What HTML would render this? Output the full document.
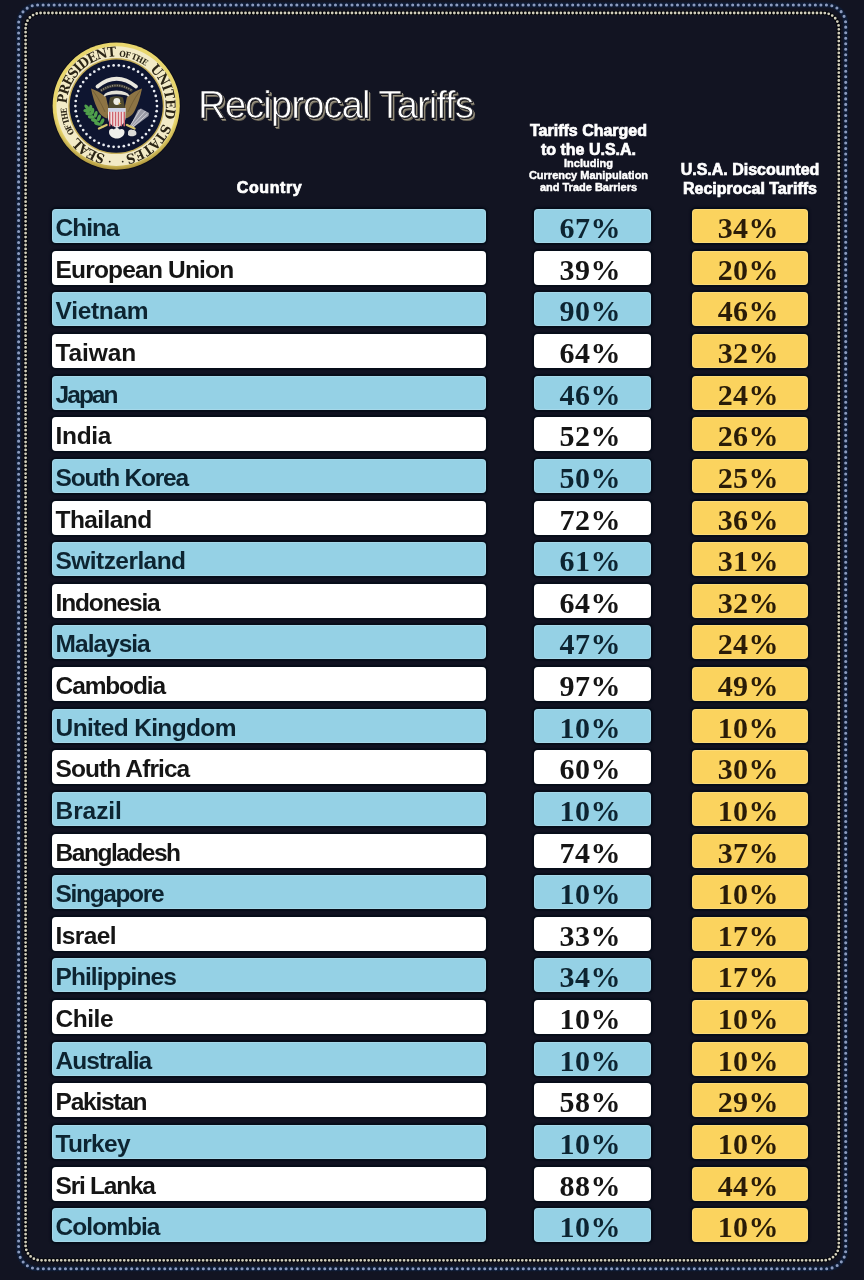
<!DOCTYPE html>
<html><head><meta charset="utf-8"><style>
*{margin:0;padding:0;box-sizing:border-box}
html,body{width:864px;height:1280px;overflow:hidden;background:#121422}
body{position:relative;font-family:"Liberation Sans",sans-serif}
.frame{position:absolute;left:0;top:0;width:864px;height:1280px}
.title{position:absolute;left:198px;top:82.5px;font-size:38.5px;color:#fff;white-space:nowrap;letter-spacing:-1.05px;
 -webkit-text-stroke:0.7px #1b1b22;text-shadow:1px 1px 0 #15151a,1.9px 1.9px 0 #9d9684,2.6px 2.6px 0.6px #6e695c}
.h{position:absolute;color:#fff;font-weight:bold;text-align:center;white-space:nowrap;-webkit-text-stroke:0.7px #fff}
.r{position:absolute;left:0;width:864px;height:34px}
.r>div{position:absolute;top:0;height:34px;border-radius:4px;box-shadow:0 0 0 1.5px #060d19,0 0 2px 2px #0a0e1b,inset 0 0 0 1px rgba(255,255,255,0.16)}
.c{left:52px;width:434px;font-weight:bold;font-size:24.5px;letter-spacing:-0.6px;padding-left:3.6px;line-height:38px}
.m,.y{font-family:"Liberation Serif",serif;font-weight:bold;font-size:30px;letter-spacing:0.4px;text-align:center;line-height:37.2px;padding-right:4.6px}
.m{left:534px;width:117px}
.y{left:692px;width:116px;padding-right:3.5px !important;background:#fbd35e;color:#2a1c08}
.b .c,.b .m{background:#95d1e5;color:#0d2431}
.w .c,.w .m{background:#fff;color:#151515}
</style></head><body>
<svg style="position:absolute;left:46px;top:36px" width="142" height="142" viewBox="46 36 142 142">
<defs><radialGradient id="gr" cx="50%" cy="45%" r="55%"><stop offset="0.9" stop-color="#e8d66e"/><stop offset="1" stop-color="#a88f38"/></radialGradient></defs>
<circle cx="116.2" cy="106.1" r="64.4" fill="#0b0c18"/>
<circle cx="116.2" cy="106.1" r="63.6" fill="url(#gr)"/>
<circle cx="116.2" cy="106.1" r="59.800000000000004" fill="#f2eac6"/>
<circle cx="116.2" cy="106.1" r="48.0" fill="#c8b05a"/>
<circle cx="116.2" cy="106.1" r="46.6" fill="#0e1530"/>
<circle cx="157.00" cy="106.10" r="1.35" fill="#e9ecf2"/>
<circle cx="156.68" cy="111.21" r="1.35" fill="#e9ecf2"/>
<circle cx="155.72" cy="116.25" r="1.35" fill="#e9ecf2"/>
<circle cx="154.13" cy="121.12" r="1.35" fill="#e9ecf2"/>
<circle cx="151.95" cy="125.76" r="1.35" fill="#e9ecf2"/>
<circle cx="149.21" cy="130.08" r="1.35" fill="#e9ecf2"/>
<circle cx="145.94" cy="134.03" r="1.35" fill="#e9ecf2"/>
<circle cx="142.21" cy="137.54" r="1.35" fill="#e9ecf2"/>
<circle cx="138.06" cy="140.55" r="1.35" fill="#e9ecf2"/>
<circle cx="133.57" cy="143.02" r="1.35" fill="#e9ecf2"/>
<circle cx="128.81" cy="144.90" r="1.35" fill="#e9ecf2"/>
<circle cx="123.85" cy="146.18" r="1.35" fill="#e9ecf2"/>
<circle cx="118.76" cy="146.82" r="1.35" fill="#e9ecf2"/>
<circle cx="113.64" cy="146.82" r="1.35" fill="#e9ecf2"/>
<circle cx="108.55" cy="146.18" r="1.35" fill="#e9ecf2"/>
<circle cx="103.59" cy="144.90" r="1.35" fill="#e9ecf2"/>
<circle cx="98.83" cy="143.02" r="1.35" fill="#e9ecf2"/>
<circle cx="94.34" cy="140.55" r="1.35" fill="#e9ecf2"/>
<circle cx="90.19" cy="137.54" r="1.35" fill="#e9ecf2"/>
<circle cx="86.46" cy="134.03" r="1.35" fill="#e9ecf2"/>
<circle cx="83.19" cy="130.08" r="1.35" fill="#e9ecf2"/>
<circle cx="80.45" cy="125.76" r="1.35" fill="#e9ecf2"/>
<circle cx="78.27" cy="121.12" r="1.35" fill="#e9ecf2"/>
<circle cx="76.68" cy="116.25" r="1.35" fill="#e9ecf2"/>
<circle cx="75.72" cy="111.21" r="1.35" fill="#e9ecf2"/>
<circle cx="75.40" cy="106.10" r="1.35" fill="#e9ecf2"/>
<circle cx="75.72" cy="100.99" r="1.35" fill="#e9ecf2"/>
<circle cx="76.68" cy="95.95" r="1.35" fill="#e9ecf2"/>
<circle cx="78.27" cy="91.08" r="1.35" fill="#e9ecf2"/>
<circle cx="80.45" cy="86.44" r="1.35" fill="#e9ecf2"/>
<circle cx="83.19" cy="82.12" r="1.35" fill="#e9ecf2"/>
<circle cx="86.46" cy="78.17" r="1.35" fill="#e9ecf2"/>
<circle cx="90.19" cy="74.66" r="1.35" fill="#e9ecf2"/>
<circle cx="94.34" cy="71.65" r="1.35" fill="#e9ecf2"/>
<circle cx="98.83" cy="69.18" r="1.35" fill="#e9ecf2"/>
<circle cx="103.59" cy="67.30" r="1.35" fill="#e9ecf2"/>
<circle cx="108.55" cy="66.02" r="1.35" fill="#e9ecf2"/>
<circle cx="113.64" cy="65.38" r="1.35" fill="#e9ecf2"/>
<circle cx="118.76" cy="65.38" r="1.35" fill="#e9ecf2"/>
<circle cx="123.85" cy="66.02" r="1.35" fill="#e9ecf2"/>
<circle cx="128.81" cy="67.30" r="1.35" fill="#e9ecf2"/>
<circle cx="133.57" cy="69.18" r="1.35" fill="#e9ecf2"/>
<circle cx="138.06" cy="71.65" r="1.35" fill="#e9ecf2"/>
<circle cx="142.21" cy="74.66" r="1.35" fill="#e9ecf2"/>
<circle cx="145.94" cy="78.17" r="1.35" fill="#e9ecf2"/>
<circle cx="149.21" cy="82.12" r="1.35" fill="#e9ecf2"/>
<circle cx="151.95" cy="86.44" r="1.35" fill="#e9ecf2"/>
<circle cx="154.13" cy="91.08" r="1.35" fill="#e9ecf2"/>
<circle cx="155.72" cy="95.95" r="1.35" fill="#e9ecf2"/>
<circle cx="156.68" cy="100.99" r="1.35" fill="#e9ecf2"/>
<path id="tp" fill="none" d="M 116.2 155.7 A 49.6 49.6 0 1 1 116.2 56.49999999999999 A 49.6 49.6 0 1 1 116.2 155.7"/>
<text font-family="DejaVu Serif Condensed,Liberation Serif,serif" font-weight="bold" font-size="13.5" fill="#2b2516"><textPath href="#tp" startOffset="10.8" textLength="33.3" lengthAdjust="spacing">SEAL</textPath></text>
<text font-family="DejaVu Serif Condensed,Liberation Serif,serif" font-weight="bold" font-size="8.2" fill="#2b2516"><textPath href="#tp" startOffset="49.3" textLength="26.8" lengthAdjust="spacing">OF THE</textPath></text>
<text font-family="DejaVu Serif Condensed,Liberation Serif,serif" font-weight="bold" font-size="13.5" fill="#2b2516"><textPath href="#tp" startOffset="80.1" textLength="75.7" lengthAdjust="spacing">PRESIDENT</textPath></text>
<text font-family="DejaVu Serif Condensed,Liberation Serif,serif" font-weight="bold" font-size="8.2" fill="#2b2516"><textPath href="#tp" startOffset="158.4" textLength="28.6" lengthAdjust="spacing">OF THE</textPath></text>
<text font-family="DejaVu Serif Condensed,Liberation Serif,serif" font-weight="bold" font-size="13.5" fill="#2b2516"><textPath href="#tp" startOffset="192.2" textLength="53.7" lengthAdjust="spacing">UNITED</textPath></text>
<text font-family="DejaVu Serif Condensed,Liberation Serif,serif" font-weight="bold" font-size="13.5" fill="#2b2516"><textPath href="#tp" startOffset="251.0" textLength="51.1" lengthAdjust="spacing">STATES</textPath></text>
<circle cx="109.7" cy="161.6" r="0.9" fill="#2a2414"/>
<circle cx="122.7" cy="161.6" r="0.9" fill="#2a2414"/>
<g><path d="M91 88.5 C96 90 101 93 106 97 L108.5 108 L107.5 118.5 C103 117.5 99.5 114 97.5 109 C94.5 103 92.5 96 91 88.5 Z" fill="#8d7444"/><path d="M142 88.5 C137 90 132 93 127 97 L124.5 108 L125.5 118.5 C130 117.5 133.5 114 135.5 109 C138.5 103 140.5 96 142 88.5 Z" fill="#8d7444"/><path d="M93 91 C97 96 101 103 105 112" stroke="#6e5a34" stroke-width="0.8" fill="none"/><path d="M140 91 C136 96 132 103 128 112" stroke="#6e5a34" stroke-width="0.8" fill="none"/><path d="M97.5 86.5 Q116.5 71 136 86.5" fill="none" stroke="#e9e7de" stroke-width="3.8" stroke-linecap="round"/><path d="M100.5 91 Q116.5 80 132.5 91" fill="none" stroke="#3c3a34" stroke-width="3"/><path d="M101 90.5 Q116.5 80.5 132 90.5" fill="none" stroke="#9a968a" stroke-width="1.6" stroke-dasharray="1 1.4"/><path d="M103.5 96 Q105 91 116.5 90.5 Q128 91 129.5 96 L128 96.5 Q126 94.5 116.5 94.3 Q107 94.5 105 96.5 Z" fill="#e2e0d6"/><path d="M110 97.5 Q116.5 95 123 97.5 L125 108 L108 108 Z" fill="#4f4a30"/><ellipse cx="116.8" cy="101.5" rx="3.4" ry="3.4" fill="#eeede4"/><path d="M118.5 102.5 l3 1 l-2.5 1 Z" fill="#d8b84a"/><path d="M108 108 L125.5 108 L125.5 118 C125.5 123 121 126 116.7 128 C112.5 126 108 123 108 118 Z" fill="#f4eeee"/><path d="M108 108 L125.5 108 L125.5 111.8 L108 111.8 Z" fill="#cdd3e6"/><rect x="109.00" y="111.8" width="1.5" height="14.5" fill="#cf6470"/><rect x="111.90" y="111.8" width="1.5" height="14.5" fill="#cf6470"/><rect x="114.80" y="111.8" width="1.5" height="14.5" fill="#cf6470"/><rect x="117.70" y="111.8" width="1.5" height="14.5" fill="#cf6470"/><rect x="120.60" y="111.8" width="1.5" height="14.5" fill="#cf6470"/><rect x="123.50" y="111.8" width="1.5" height="14.5" fill="#cf6470"/><path d="M103.5 127.5 C98 124 93 118 88.5 109" fill="none" stroke="#3e7d3c" stroke-width="1.1"/><ellipse cx="88.8" cy="109.5" rx="3.4" ry="1.7" transform="rotate(-130 88.8 109.5) translate(2.8 0)" fill="#4fa04b"/><ellipse cx="89.5" cy="111" rx="3.4" ry="1.7" transform="rotate(-175 89.5 111) translate(2.8 0)" fill="#4fa04b"/><ellipse cx="90" cy="111" rx="3.4" ry="1.7" transform="rotate(-80 90 111) translate(2.8 0)" fill="#4fa04b"/><ellipse cx="91.5" cy="114" rx="3.4" ry="1.7" transform="rotate(-175 91.5 114) translate(2.8 0)" fill="#4fa04b"/><ellipse cx="92" cy="114" rx="3.4" ry="1.7" transform="rotate(-80 92 114) translate(2.8 0)" fill="#4fa04b"/><ellipse cx="94" cy="117.5" rx="3.4" ry="1.7" transform="rotate(-170 94 117.5) translate(2.8 0)" fill="#4fa04b"/><ellipse cx="95" cy="117" rx="3.4" ry="1.7" transform="rotate(-75 95 117) translate(2.8 0)" fill="#4fa04b"/><ellipse cx="97" cy="121" rx="3.4" ry="1.7" transform="rotate(-165 97 121) translate(2.8 0)" fill="#4fa04b"/><ellipse cx="98" cy="120.5" rx="3.4" ry="1.7" transform="rotate(-70 98 120.5) translate(2.8 0)" fill="#4fa04b"/><ellipse cx="100" cy="124.5" rx="3.4" ry="1.7" transform="rotate(-160 100 124.5) translate(2.8 0)" fill="#4fa04b"/><ellipse cx="101" cy="124" rx="3.4" ry="1.7" transform="rotate(-65 101 124) translate(2.8 0)" fill="#4fa04b"/><path d="M130 126.5 L138 110 L141 108.5 L149 113 L148.5 116 L132.5 128 Z" fill="#a9a9b2" opacity="0.9"/><path d="M131 127 L145.5 111 M132.5 127.5 L147.5 114 M130 126 L140.5 109.5" stroke="#d6d6dc" stroke-width="0.9"/><path d="M99 128.5 L106.5 125" stroke="#d9c66c" stroke-width="2.4" stroke-linecap="round"/><path d="M127 125 L134.5 128.5" stroke="#d9c66c" stroke-width="2.4" stroke-linecap="round"/><path d="M109 132 C109 129 112 128 114 129.5 C115.5 127.5 118.5 127.5 119.5 129.5 C122 128 125 129.5 124.5 132.5 C124 136.5 120 138.5 116.7 138.5 C113 138.5 109 136 109 132 Z" fill="#efefea"/><path d="M128 132.5 C128 130 131 128.5 133 130 C135.5 130 137 132 136.3 134.5 C135 136.5 130 137 128 135 Z" fill="#dcdcd8"/></g>
</svg>
<div class="title">Reciprocal Tariffs</div>
<div class="h" style="left:200px;width:139px;top:178.6px;font-size:16px;letter-spacing:0.6px">Country</div>
<div class="h" style="left:528px;width:121px;top:121px;font-size:16px;line-height:19px">Tariffs Charged<br>to the U.S.A.</div>
<div class="h" style="left:528px;width:121px;top:158px;font-size:11px;line-height:11.8px;-webkit-text-stroke:0.45px #fff">Including<br>Currency Manipulation<br>and Trade Barriers</div>
<div class="h" style="left:670px;width:160px;top:161px;font-size:16px;line-height:18.5px">U.S.A. Discounted<br>Reciprocal Tariffs</div>
<div class="r b" style="top:209.10px"><div class="c" style="letter-spacing:-1.0px">China</div><div class="m">67%</div><div class="y">34%</div></div>
<div class="r w" style="top:250.73px"><div class="c" style="letter-spacing:-0.82px">European Union</div><div class="m">39%</div><div class="y">20%</div></div>
<div class="r b" style="top:292.36px"><div class="c" style="letter-spacing:-0.33px">Vietnam</div><div class="m">90%</div><div class="y">46%</div></div>
<div class="r w" style="top:333.99px"><div class="c" style="letter-spacing:-0.14px">Taiwan</div><div class="m">64%</div><div class="y">32%</div></div>
<div class="r b" style="top:375.62px"><div class="c" style="letter-spacing:-1.98px">Japan</div><div class="m">46%</div><div class="y">24%</div></div>
<div class="r w" style="top:417.25px"><div class="c" style="letter-spacing:-0.33px">India</div><div class="m">52%</div><div class="y">26%</div></div>
<div class="r b" style="top:458.88px"><div class="c" style="letter-spacing:-1.21px">South Korea</div><div class="m">50%</div><div class="y">25%</div></div>
<div class="r w" style="top:500.51px"><div class="c" style="letter-spacing:-0.6px">Thailand</div><div class="m">72%</div><div class="y">36%</div></div>
<div class="r b" style="top:542.14px"><div class="c" style="letter-spacing:-0.57px">Switzerland</div><div class="m">61%</div><div class="y">31%</div></div>
<div class="r w" style="top:583.77px"><div class="c" style="letter-spacing:-1.16px">Indonesia</div><div class="m">64%</div><div class="y">32%</div></div>
<div class="r b" style="top:625.40px"><div class="c" style="letter-spacing:-1.0px">Malaysia</div><div class="m">47%</div><div class="y">24%</div></div>
<div class="r w" style="top:667.03px"><div class="c" style="letter-spacing:-1.14px">Cambodia</div><div class="m">97%</div><div class="y">49%</div></div>
<div class="r b" style="top:708.66px"><div class="c" style="letter-spacing:-0.64px">United Kingdom</div><div class="m">10%</div><div class="y">10%</div></div>
<div class="r w" style="top:750.29px"><div class="c" style="letter-spacing:-0.92px">South Africa</div><div class="m">60%</div><div class="y">30%</div></div>
<div class="r b" style="top:791.92px"><div class="c" style="letter-spacing:-0.1px">Brazil</div><div class="m">10%</div><div class="y">10%</div></div>
<div class="r w" style="top:833.55px"><div class="c" style="letter-spacing:-1.49px">Bangladesh</div><div class="m">74%</div><div class="y">37%</div></div>
<div class="r b" style="top:875.18px"><div class="c" style="letter-spacing:-1.36px">Singapore</div><div class="m">10%</div><div class="y">10%</div></div>
<div class="r w" style="top:916.81px"><div class="c" style="letter-spacing:-0.62px">Israel</div><div class="m">33%</div><div class="y">17%</div></div>
<div class="r b" style="top:958.44px"><div class="c" style="letter-spacing:-0.95px">Philippines</div><div class="m">34%</div><div class="y">17%</div></div>
<div class="r w" style="top:1000.07px"><div class="c" style="letter-spacing:-0.48px">Chile</div><div class="m">10%</div><div class="y">10%</div></div>
<div class="r b" style="top:1041.70px"><div class="c" style="letter-spacing:-1.05px">Australia</div><div class="m">10%</div><div class="y">10%</div></div>
<div class="r w" style="top:1083.33px"><div class="c" style="letter-spacing:-1.26px">Pakistan</div><div class="m">58%</div><div class="y">29%</div></div>
<div class="r b" style="top:1124.96px"><div class="c" style="letter-spacing:-0.72px">Turkey</div><div class="m">10%</div><div class="y">10%</div></div>
<div class="r w" style="top:1166.59px"><div class="c" style="letter-spacing:-1.25px">Sri Lanka</div><div class="m">88%</div><div class="y">44%</div></div>
<div class="r b" style="top:1208.22px"><div class="c" style="letter-spacing:-0.96px">Colombia</div><div class="m">10%</div><div class="y">10%</div></div>
<svg class="frame" width="864" height="1280" viewBox="0 0 864 1280">
<rect x="18.6" y="5" width="827.1" height="1263.7" rx="19" fill="none" stroke="#0f1c36" stroke-width="5"/>
<rect x="18.6" y="5" width="827.1" height="1263.7" rx="19" fill="none" stroke="#8b9bbf" stroke-width="3.1" pathLength="752" stroke-dasharray="0 1" stroke-linecap="round"/>
<rect x="25.6" y="13" width="813.2" height="1247.3" rx="15" fill="none" stroke="#06070c" stroke-width="4"/>
<rect x="25.6" y="13" width="813.2" height="1247.3" rx="15" fill="none" stroke="#d3d0bd" stroke-width="2.8" pathLength="1039" stroke-dasharray="0 1" stroke-linecap="round"/>
</svg>
</body></html>
